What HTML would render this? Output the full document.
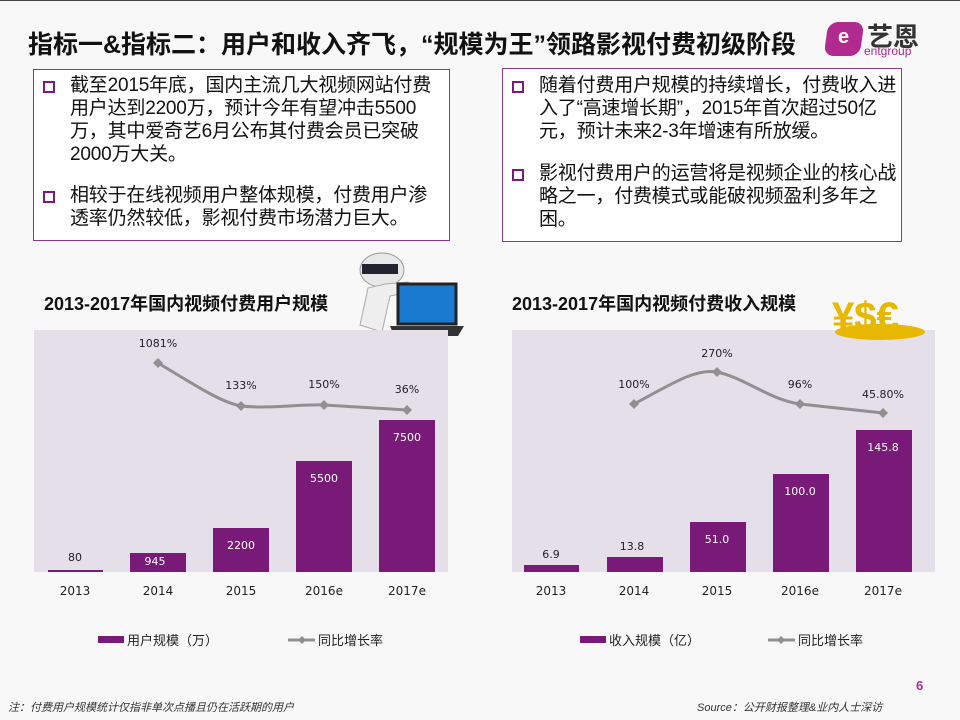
<!DOCTYPE html>
<html><head><meta charset="utf-8"><style>
body{margin:0;width:960px;height:720px;background:#f8f8f8;position:relative;overflow:hidden;font-family:"Liberation Sans","Noto Sans CJK SC",sans-serif;}
.t{position:absolute;white-space:nowrap}
.box{position:absolute;border:1.5px solid #8b3a8b;background:#fff;}
.box p{margin:0;position:relative;padding-left:36px;font-size:19px;line-height:23px;color:#111;white-space:nowrap;letter-spacing:-0.2px}
.box p:before{content:"";position:absolute;left:9px;top:7px;width:8px;height:8px;border:2.5px solid #7a1a7a;}
</style></head><body>
<div style="position:absolute;left:0;top:0;width:960px;height:1px;background:#444"></div>
<div class="t" style="left:28px;top:25px;font-size:25px;font-weight:bold;color:#111">指标一&amp;指标二：用户和收入齐飞，“规模为王”领路影视付费初级阶段</div>
<div style="position:absolute;left:826px;top:22px;width:36px;height:34px;border-radius:10px;background:#b02a8f;transform:skewX(-8deg)"></div>
<div class="t" style="left:838px;top:26px;font-size:20px;color:#fff;font-weight:bold">e</div>
<div class="t" style="left:867px;top:17px;font-size:26px;font-weight:bold;color:#333">艺恩</div>
<div class="t" style="left:864px;top:44px;font-size:12px;color:#b02a8f">entgroup</div>
<div class="box" style="left:33px;top:69px;width:415px;height:166px;padding-top:4px">
<p>截至2015年底，国内主流几大视频网站付费<br>用户达到2200万，预计今年有望冲击5500<br>万，其中爱奇艺6月公布其付费会员已突破<br>2000万大关。</p>
<p style="margin-top:18px">相较于在线视频用户整体规模，付费用户渗<br>透率仍然较低，影视付费市场潜力巨大。</p></div>
<div class="box" style="left:502px;top:68px;width:398px;height:167px;padding-top:5px">
<p>随着付费用户规模的持续增长，付费收入进<br>入了“高速增长期”，2015年首次超过50亿<br>元，预计未来2-3年增速有所放缓。</p>
<p style="margin-top:19px">影视付费用户的运营将是视频企业的核心战<br>略之一，付费模式或能破视频盈利多年之<br>困。</p></div>
<div class="t" style="left:44px;top:290px;font-size:18px;font-weight:bold;color:#111">2013-2017年国内视频付费用户规模</div>
<div class="t" style="left:512px;top:290px;font-size:18px;font-weight:bold;color:#111">2013-2017年国内视频付费收入规模</div>
<svg style="position:absolute;left:0;top:0" width="960" height="720" font-family="DejaVu Sans, sans-serif" font-size="11">
<!-- deco left -->
<ellipse cx="382" cy="270" rx="22" ry="17" fill="#e8e8e8" stroke="#999"/><rect x="362" y="264" width="36" height="10" fill="#223"/>
<path d="M368 288 L360 325 L382 332 L390 296 L410 292 L408 282 L385 284Z" fill="#eee" stroke="#aaa"/>
<rect x="398" y="284" width="58" height="40" fill="#1a7ad0" stroke="#222" stroke-width="3"/>
<path d="M390 326 L464 326 L458 336 L394 336Z" fill="#333"/>
<!-- deco right -->
<text x="832" y="330" font-size="40" font-weight="bold" fill="#e8b800" font-family="Liberation Sans">¥$€</text>
<ellipse cx="880" cy="332" rx="45" ry="8" fill="#e8b800"/>
<!-- left chart -->
<rect x="34" y="330" width="414" height="242" fill="#e5dfea"/>
<g fill="#7a1a78">
<rect x="48" y="570" width="55" height="2"/><rect x="130" y="553" width="56" height="19"/><rect x="213" y="528" width="56" height="44"/><rect x="296" y="461" width="56" height="111"/><rect x="379" y="420" width="56" height="152"/></g>
<path d="M158 363 C195 385,220 402,241 406 C270 409,300 404,324 405 L407 410" fill="none" stroke="#909090" stroke-width="3"/>
<g fill="#909090"><path d="M158 358l5 5-5 5-5-5z"/><path d="M241 401l5 5-5 5-5-5z"/><path d="M324 400l5 5-5 5-5-5z"/><path d="M407 405l5 5-5 5-5-5z"/></g>
<g text-anchor="middle" fill="#222">
<text x="75" y="561">80</text><text x="158" y="347">1081%</text><text x="241" y="389">133%</text><text x="324" y="388">150%</text><text x="407" y="393">36%</text>
<g fill="#fff"><text x="155" y="565">945</text><text x="241" y="549">2200</text><text x="324" y="482">5500</text><text x="407" y="441">7500</text></g>
<g font-size="12"><text x="75" y="595">2013</text><text x="158" y="595">2014</text><text x="241" y="595">2015</text><text x="324" y="595">2016e</text><text x="407" y="595">2017e</text></g></g>
<rect x="98" y="636" width="26" height="7" fill="#7a1a78"/>
<text x="127" y="645" font-size="13" fill="#222" font-family="Noto Sans CJK SC">用户规模（万）</text>
<line x1="288" y1="640" x2="315" y2="640" stroke="#909090" stroke-width="3"/><path d="M302 636l4 4-4 4-4-4z" fill="#909090"/>
<text x="318" y="645" font-size="13" fill="#222" font-family="Noto Sans CJK SC">同比增长率</text>
<!-- right chart -->
<rect x="512" y="330" width="423" height="242" fill="#e5dfea"/>
<text x="832" y="330" font-size="40" font-weight="bold" fill="#e8b800" font-family="Liberation Sans">¥$€</text>
<ellipse cx="880" cy="332" rx="45" ry="8" fill="#e8b800"/>
<g fill="#7a1a78">
<rect x="524" y="565" width="55" height="7"/><rect x="607" y="557" width="56" height="15"/><rect x="690" y="522" width="56" height="50"/><rect x="773" y="474" width="56" height="98"/><rect x="856" y="430" width="56" height="142"/></g>
<path d="M634 404 C670 385,695 368,717 372 C745 378,770 400,800 404 L883 413" fill="none" stroke="#909090" stroke-width="3"/>
<g fill="#909090"><path d="M634 399l5 5-5 5-5-5z"/><path d="M717 367l5 5-5 5-5-5z"/><path d="M800 399l5 5-5 5-5-5z"/><path d="M883 408l5 5-5 5-5-5z"/></g>
<g text-anchor="middle" fill="#222">
<text x="551" y="558">6.9</text><text x="632" y="550">13.8</text><text x="634" y="388">100%</text><text x="717" y="357">270%</text><text x="800" y="388">96%</text><text x="883" y="398">45.80%</text>
<g fill="#fff"><text x="717" y="543">51.0</text><text x="800" y="495">100.0</text><text x="883" y="451">145.8</text></g>
<g font-size="12"><text x="551" y="595">2013</text><text x="634" y="595">2014</text><text x="717" y="595">2015</text><text x="800" y="595">2016e</text><text x="883" y="595">2017e</text></g></g>
<rect x="580" y="636" width="26" height="7" fill="#7a1a78"/>
<text x="609" y="645" font-size="13" fill="#222" font-family="Noto Sans CJK SC">收入规模（亿）</text>
<line x1="768" y1="640" x2="795" y2="640" stroke="#909090" stroke-width="3"/><path d="M781 636l4 4-4 4-4-4z" fill="#909090"/>
<text x="798" y="645" font-size="13" fill="#222" font-family="Noto Sans CJK SC">同比增长率</text>
</svg>
<div class="t" style="left:916px;top:678px;font-size:13px;font-weight:bold;color:#b02a8f">6</div>
<div class="t" style="left:8px;top:699px;font-size:11px;font-style:italic;color:#333">注：付费用户规模统计仅指非单次点播且仍在活跃期的用户</div>
<div class="t" style="left:697px;top:699px;font-size:11px;font-style:italic;color:#333">Source：公开财报整理&amp;业内人士深访</div>
</body></html>
